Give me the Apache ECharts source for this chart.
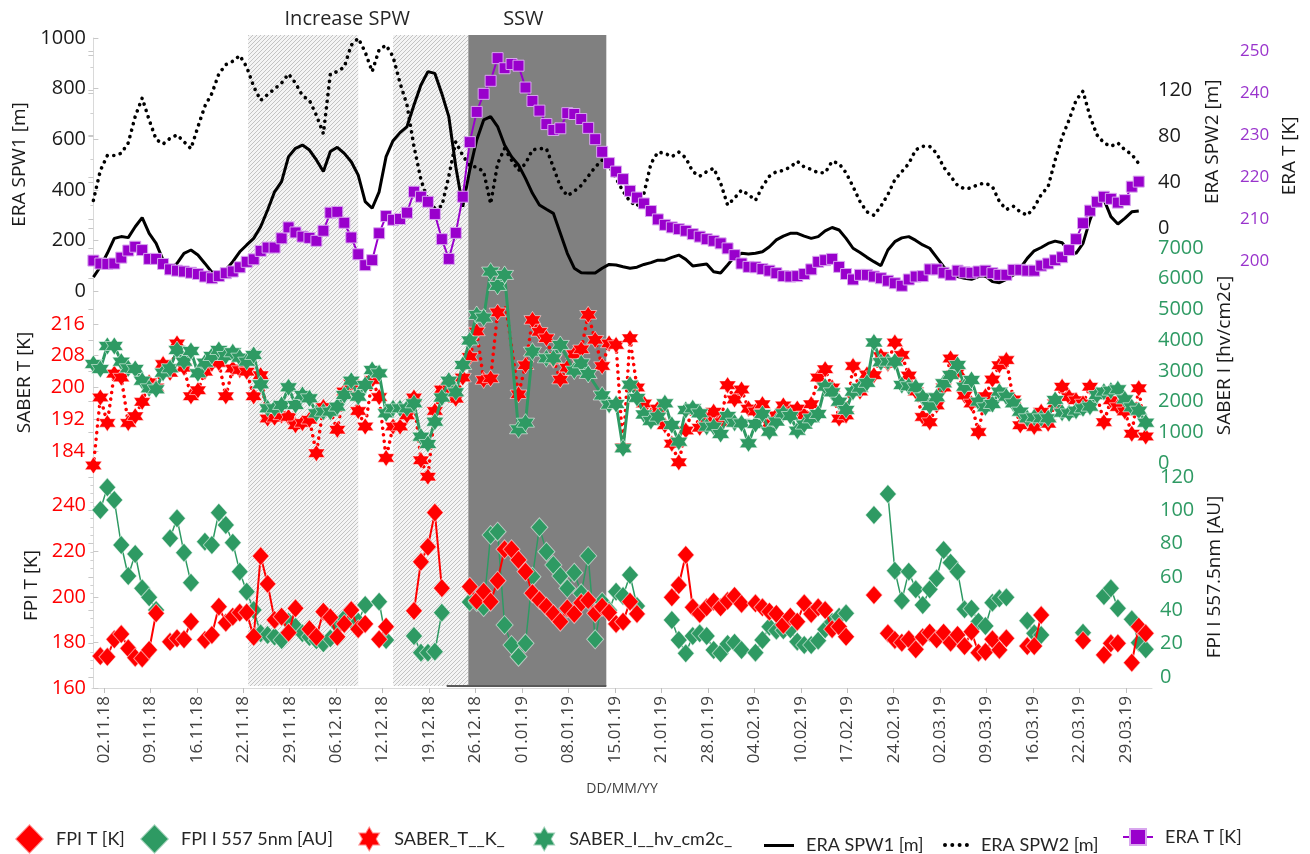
<!DOCTYPE html>
<html>
<head>
<meta charset="utf-8">
<script src="https://cdn.jsdelivr.net/npm/echarts@6/dist/echarts.min.js"></script>
<style>
  html, body { margin: 0; padding: 0; background: #ffffff; }
  #chart { width: 1310px; height: 854px; }
</style>
</head>
<body>
<div id="chart"></div>
<script>
// Day numbers on the x axis count from 01.11.18 (day 0).
const tickLabels = ['02.11.18','09.11.18','16.11.18','22.11.18','29.11.18','06.12.18','12.12.18',
  '19.12.18','26.12.18','01.01.19','08.01.19','15.01.19','21.01.19','28.01.19','04.02.19','10.02.19',
  '17.02.19','24.02.19','02.03.19','09.03.19','16.03.19','22.03.19','29.03.19'];

// Shaded periods (day numbers) and their titles
const hatchPeriods = [[22.2, 38.0], [43.0, 53.8]];
const sswPeriod = [53.8, 73.6];
const periodTitles = [
  { text: 'Increase SPW', from: 22.2, to: 53.8 },
  { text: 'SSW', from: 53.8, to: 73.6 }
];

// ERA SPW1 [m], daily from 01.11.18
const eraSpw1 = [55,96,149,208,215,211,254,290,228,188,
  122,86,109,149,162,142,109,74,74,83,
  116,155,182,208,254,320,392,432,531,564,
  577,557,518,472,551,568,544,511,458,353,
  327,392,531,594,626,650,735,814,867,860,
  780,689,491,333,478,597,676,689,650,577,
  531,498,445,386,340,323,307,228,149,90,
  72,71,71,90,105,103,96,90,94,105,
  112,122,122,133,142,125,99,103,107,76,
  71,103,136,149,146,149,155,175,202,217,
  228,228,217,208,215,238,251,241,208,169,
  152,133,116,100,162,195,210,215,200,182,
  169,133,96,67,57,50,46,57,59,37,
  33,46,63,90,129,159,172,188,197,191,
  155,149,188,281,353,362,294,265,287,313,
  316];

// ERA SPW2 [m], daily from 01.11.18
const eraSpw2 = [24,50,63,63,65,74,97,113,94,77,
  73,78,81,75,69,88,106,117,134,142,
  145,150,140,123,111,116,121,126,134,126,
  115,111,98,82,134,136,140,159,165,153,
  136,155,159,149,126,107,71,42,24,17,
  19,45,75,63,54,53,49,21,56,69,
  59,50,56,68,69,69,53,36,28,32,
  37,45,53,59,54,43,32,23,19,30,
  56,66,65,62,66,61,49,45,49,52,
  39,20,26,33,29,24,36,45,49,50,
  53,58,53,51,48,48,58,56,48,36,
  23,14,11,19,29,42,49,56,68,71,
  71,65,53,45,37,34,35,38,39,36,
  23,16,19,14,11,18,29,36,59,79,
  94,111,119,97,81,74,71,74,68,64,
  56];

// ERA T [K], daily from 01.11.18
const eraT = [200.1,199.4,199.3,199.4,200.8,202.5,203.4,202.6,200.5,200.5,
  199.3,198.0,197.7,197.5,197.2,196.9,196.3,195.9,196.4,197.1,
  197.5,198.5,199.8,200.4,202.4,203.2,203.2,205.4,208.0,206.8,
  205.8,205.5,204.8,207.2,211.5,211.7,209.1,205.6,201.6,199.0,
  200.2,206.6,210.7,209.8,210.0,211.5,216.5,215.3,214.1,211.2,
  205.2,200.5,206.7,215.3,228.3,235.5,239.8,242.9,248.3,245.9,
  246.9,246.5,241.3,238.1,235.8,232.6,231.2,231.6,235.2,235.0,
  233.8,231.7,229.0,226.0,223.3,221.3,219.5,216.7,215.1,213.7,
  211.9,209.9,208.6,208.0,207.6,207.2,206.4,205.8,205.2,204.8,
  204.2,203.0,201.4,199.4,198.6,198.5,198.1,197.7,197.1,196.4,
  196.3,196.4,196.9,198.0,199.8,200.2,200.5,198.6,196.9,195.6,
  196.7,196.7,196.3,195.9,195.3,194.7,194.1,195.6,196.3,196.4,
  198.0,198.0,197.2,196.7,197.7,197.3,197.2,197.5,197.7,197.1,
  196.7,196.7,197.9,197.9,197.7,197.7,198.9,199.4,200.2,200.9,
  202.6,205.2,209.0,212.0,214.1,215.3,214.8,213.9,214.5,217.7,
  218.9];

// SABER T [K], daily from 01.11.18 (null = no pass)
const saberT = [180.4,197.5,191.1,203.5,202.5,191.1,192.8,196.4,201.3,200,
  205.9,203.7,211.1,205,197.8,199.3,204.0,206,206.2,197.8,
  204.8,204.4,204.0,197.8,203.1,192.2,192.4,193.0,192.6,190.5,
  191.1,191.9,183.5,195.1,194,189.4,199,201,194.1,190.2,
  201.9,197.6,182.3,190.2,190.2,193,197.5,181.7,177.6,194.1,
  199.5,200,197.2,202.5,207.7,214.1,201.9,202.3,218.9,222.5,
  null,198.3,205.6,217.0,214,212.4,207,202.0,205,208.4,
  209.6,218.3,212,205.4,211.1,210.7,185,212.4,200.0,196,
  193,194.7,190.5,185.9,181.2,189.2,194.7,189.9,192,193.9,
  191.3,200.6,197,199.5,194.7,194,195.8,190.9,193,195.5,
  194,194.7,193,195.8,202.5,204.6,200,192.2,193.0,205.4,
  199,203.3,203.1,207.9,206,211.3,208.2,203,199,192.6,
  191.3,195.5,200,207.3,204,198,196,188.8,197.8,202.0,
  205.6,206.9,197,190.5,192,190.1,193.9,190.9,196,200.2,
  197.6,196.8,196,200.2,198,191.3,196.8,195.1,194,188.4,
  199.8,187.7];

// SABER I [hv/cm2c], daily from 01.11.18
const saberI = [3224,3061,3810,3810,3300,3083,3061,2680,2432,2399,
  2941,3083,3680,3300,3647,2920,3267,3484,3680,3484,
  3604,3430,3300,3517,2562,1780,1780,1889,2464,1889,
  2214,2106,1617,1672,1672,1835,2214,2680,2160,2540,
  3028,2920,1617,1780,1780,1780,1943,858,619,1346,
  2130,2680,2300,3191,3990,4820,4733,6231,5765,6124,
  null,1097,1313,3626,null,3409,3409,3844,null,3008,
  3246,2899,null,2200,1900,1920,479,2550,2120,1580,
  1370,1509,1943,1237,694,1726,1780,1617,1183,1183,
  944,1530,1313,1292,640,1270,1596,1020,1350,1617,
  1530,1052,1250,1455,1596,2486,2300,1997,1726,2323,
  2450,2610,3924,3283,3300,3300,2540,2500,2464,2138,
  1856,2138,2595,2866,3191,2486,2703,1997,1813,1921,
  2323,2160,1943,1672,1455,1487,1455,1455,2051,1639,
  1617,1704,1780,1835,2214,2323,2356,2399,2073,1813,
  1704,1313];

// FPI T [K], nightly from 01.11.18 (null = no observation)
const fpiT = [null,174.0,173.7,181.4,183.7,177.4,173.3,173.0,176.7,192.8,
  null,180.3,181.8,181.4,189.1,null,181.1,183.3,195.7,188.7,
  191.3,193.1,193.1,182.5,217.9,205.7,189.9,191.3,184.3,195.0,
  null,185.8,182.5,193.5,191.0,182.5,188.1,194.2,185.8,188.1,
  null,181.4,186.9,null,null,null,193.9,215.4,222.0,237.0,
  203.8,null,null,null,204.5,198.4,202.3,197.9,207.1,220.9,
  220.9,216.2,211.1,201.6,198.6,195.7,192.5,189.1,195.0,192.5,
  197.4,198.6,192.8,195.7,193.1,188.1,189.1,197.9,192.5,null,
  null,null,null,199.8,205.2,218.4,195.4,192.5,195.4,197.9,
  195.4,198.3,200.4,196.9,null,197.2,195.4,193.5,192.5,187.7,
  191.3,189.1,197.2,192.5,195.4,194.2,185.8,186.9,182.5,null,
  null,null,200.8,null,184.0,181.1,179.9,181.4,177.0,182.3,
  184.3,181.4,184.3,179.9,183.3,178.4,184.7,175.5,175.9,181.4,
  176.7,181.8,null,null,178.4,178.4,192.0,null,null,null,
  null,null,180.8,null,null,174.5,179.6,179.6,null,171.1,
  186.9,184.0];

// FPI I 557.7 nm [AU], nightly from 01.11.18
const fpiI = [null,100.2,113.8,106.2,79.2,60.6,73.8,53.2,47.8,40.2,
  null,83.2,95.2,74.6,56.6,null,81.2,79.2,98.6,91.2,
  80.6,63.2,51.2,40.2,26.2,25.2,24.2,22.2,33.2,30.2,
  26.2,24,22,20.2,23.2,31.2,35.2,34,33.2,43.2,
  null,45.2,22.2,null,null,null,24.6,14.6,14.6,15.2,
  38.6,null,null,null,45,45,42,85.2,87.2,31.2,
  19.2,12.2,20.2,60.2,89.8,75.2,67.2,60.6,53.2,62.6,
  50.2,72.6,22.6,45.2,40,51.2,48.6,61.2,42.6,null,
  null,null,null,34.2,22.2,14.2,24.6,26.2,24.6,16.2,
  14.2,19.8,20.6,16.2,null,14.6,22.2,30.2,27.8,28,
  28.6,21.2,19.2,19.2,21.8,28.6,33,36.2,38.2,null,
  null,null,97.2,null,109.8,63.8,45.8,63.2,52.6,43.2,
  52.6,59.2,76.2,68.6,63.2,40.6,41,33.2,30.6,44.6,
  47.2,47.8,null,null,33.8,26.2,25.2,null,null,null,
  null,null,26.6,null,null,48.6,53.2,41.2,null,34.6,
  20.6,16.6];

// ---------- helpers ----------
const FONT = "'Open Sans', 'DejaVu Sans', sans-serif";
const LEGEND_FONT = "'Lato', 'Open Sans', sans-serif";
const RED = '#ff0000';
const GREEN = '#2e9a63';
const PURPLE = '#9900cc';
const AXIS_GRAY = '#d9d9d9';

const X_MIN = -0.2, X_MAX = 151.9;
const firstTick = 1.5, tickStep = 20 / 3;
const tickPos = tickLabels.map((_, k) => firstTick + k * tickStep);

const toPairs = arr => arr.map((v, i) => [i, v == null ? null : v]);
const plainNumber = v => String(v);

// six-pointed star marker
function hexagram() {
  const pts = [];
  for (let k = 0; k < 12; k++) {
    const a = -Math.PI / 2 + k * Math.PI / 6;
    const r = k % 2 === 0 ? 50 : 28.9;
    pts.push((50 + r * Math.cos(a)).toFixed(2) + ',' + (50 + r * Math.sin(a)).toFixed(2));
  }
  return 'path://M' + pts.join('L') + 'Z';
}
const STAR = hexagram();

// row of round dots for the dotted-line legend key
function dotRow(n, gap, r) {
  let d = '';
  for (let k = 0; k < n; k++) {
    const cx = r + k * gap;
    d += `M${cx - r},${r}a${r},${r} 0 1,0 ${2 * r},0a${r},${r} 0 1,0 ${-2 * r},0`;
  }
  return 'path://' + d;
}

// diagonal hatch fill
function hatchPattern() {
  const c = document.createElement('canvas');
  c.width = 4; c.height = 4;
  const g = c.getContext('2d');
  g.fillStyle = '#f4f4f4';
  g.fillRect(0, 0, 4, 4);
  g.strokeStyle = '#c3c3c3';
  g.lineWidth = 1;
  g.beginPath();
  g.moveTo(0, 4); g.lineTo(4, 0);
  g.moveTo(-1, 1); g.lineTo(1, -1);
  g.moveTo(3, 5); g.lineTo(5, 3);
  g.stroke();
  return c;
}

// panel grids: [top, height]
const LEFT = 92, RIGHT = 158;
const gridBoxes = [
  [35, 651],    // 0 background periods
  [38, 253],    // 1 ERA SPW1
  [55.5, 172.5],// 2 ERA SPW2
  [51, 210],    // 3 ERA T
  [308, 175],   // 4 SABER T
  [248, 215],   // 5 SABER I
  [483, 205],   // 6 FPI T
  [477, 200]    // 7 FPI I
];
const grid = gridBoxes.map(([t, h]) => ({ left: LEFT, right: RIGHT, top: t, height: h }));

const xAxis = gridBoxes.map((_, i) => ({
  gridIndex: i, type: 'value', min: X_MIN, max: X_MAX, show: false
}));
xAxis[6] = {
  gridIndex: 6, type: 'value', min: X_MIN, max: X_MAX, position: 'bottom',
  axisLine: { show: true, lineStyle: { color: AXIS_GRAY, width: 1 } },
  axisTick: { show: true, customValues: tickPos, length: 5, lineStyle: { color: '#bfbfbf' } },
  axisLabel: {
    customValues: tickPos, rotate: 90, margin: 8,
    fontFamily: FONT, fontSize: 17, color: '#404040',
    formatter: v => tickLabels[Math.round((v - firstTick) / tickStep)] || ''
  },
  splitLine: { show: false },
  name: 'DD/MM/YY', nameLocation: 'middle', nameGap: 94,
  nameTextStyle: { fontFamily: FONT, fontSize: 14, color: '#404040' }
};

function yAx(opts) {
  return Object.assign({
    type: 'value',
    axisLine: { show: true, lineStyle: { color: AXIS_GRAY, width: 1 } },
    axisTick: { show: true, inside: true, length: 5, lineStyle: { color: '#c8c8c8' } },
    splitLine: { show: false },
    nameLocation: 'middle', nameRotate: 90,
  }, opts);
}
const nameStyle = { fontFamily: FONT, fontSize: 19, color: '#1a1a1a' };

const yAxis = [
  { gridIndex: 0, type: 'value', min: 0, max: 1, show: false },
  yAx({ gridIndex: 1, position: 'left', min: 0, max: 1000, interval: 200,
    axisLabel: { fontFamily: FONT, fontSize: 20, color: '#1a1a1a', margin: 6, formatter: plainNumber },
    name: 'ERA SPW1 [m]', nameGap: 57, nameTextStyle: nameStyle }),
  yAx({ gridIndex: 2, position: 'right', min: 0, max: 150, interval: 40,
    axisLabel: { fontFamily: FONT, fontSize: 20, color: '#1a1a1a', margin: 6, showMaxLabel: false, formatter: plainNumber },
    minorTick: { show: true, splitNumber: 2, length: 3, lineStyle: { color: '#d0d0d0' } },
    name: 'ERA SPW2 [m]', nameGap: 49, nameTextStyle: nameStyle }),
  yAx({ gridIndex: 3, position: 'right', offset: 85, min: 200, max: 250, interval: 10,
    axisLabel: { fontFamily: FONT, fontSize: 17, color: '#9933cc', margin: 3, formatter: plainNumber },
    name: 'ERA T [K]', nameGap: 39, nameTextStyle: nameStyle }),
  yAx({ gridIndex: 4, position: 'left', min: 176, max: 220, interval: 8,
    axisLabel: { fontFamily: FONT, fontSize: 20, color: RED, margin: 7, showMinLabel: false, showMaxLabel: false, formatter: plainNumber },
    name: 'SABER T [K]', nameGap: 58,
    nameTextStyle: Object.assign({ padding: [0, 0, 0, 26] }, nameStyle) }),
  yAx({ gridIndex: 5, position: 'right', min: 0, max: 7000, interval: 1000,
    axisLabel: { fontFamily: FONT, fontSize: 20, color: GREEN, margin: 6, formatter: plainNumber },
    name: 'SABER I [hv/cm2c]', nameGap: 60, nameTextStyle: nameStyle }),
  yAx({ gridIndex: 6, position: 'left', min: 160, max: 250, interval: 20,
    axisLabel: { fontFamily: FONT, fontSize: 20, color: RED, margin: 6, showMaxLabel: false, formatter: plainNumber },
    name: 'FPI T [K]', nameGap: 42, nameTextStyle: nameStyle }),
  yAx({ gridIndex: 7, position: 'right', min: 0, max: 120, interval: 20,
    axisLabel: { fontFamily: FONT, fontSize: 20, color: GREEN, margin: 8, formatter: plainNumber },
    minorTick: { show: true, splitNumber: 4, length: 3, lineStyle: { color: '#d0d0d0' } },
    name: 'FPI I 557.5nm [AU]', nameGap: 53, nameTextStyle: nameStyle })
];

// background bands
const hatch = { image: hatchPattern(), repeat: 'repeat' };
const bandData = hatchPeriods.map(([a, b]) => [
  { xAxis: a, itemStyle: { color: hatch, opacity: 1 } }, { xAxis: b }
]);
bandData.push([{ xAxis: sswPeriod[0], itemStyle: { color: '#808080', opacity: 1 } }, { xAxis: sswPeriod[1] }]);
const titleOffsets = [-11, -14];
periodTitles.forEach((p, k) => {
  bandData.push([{
    xAxis: p.from,
    itemStyle: { color: 'rgba(0,0,0,0)' },
    label: { show: true, position: 'top', distance: 6, offset: [titleOffsets[k], 0],
      formatter: p.text, fontFamily: FONT, fontSize: 20, color: '#262626' }
  }, { xAxis: p.to }]);
});

const markerBorder = { borderColor: 'rgba(255,255,255,0.55)', borderWidth: 1 };

const series = [
  {
    type: 'line', name: 'periods', xAxisIndex: 0, yAxisIndex: 0, data: [], z: 0,
    silent: true, symbol: 'none',
    markArea: { silent: true, data: bandData },
    markLine: {
      silent: true, symbol: 'none', label: { show: false },
      lineStyle: { color: '#595959', width: 2, type: 'solid' },
      data: [[{ coord: [50.7, 0] }, { coord: [sswPeriod[1], 0] }]]
    }
  },
  {
    type: 'line', name: 'FPI I 557 5nm [AU]', xAxisIndex: 7, yAxisIndex: 7,
    data: toPairs(fpiI), connectNulls: false, showAllSymbol: true,
    symbol: 'diamond', symbolSize: [17, 19],
    lineStyle: { color: GREEN, width: 1.5 },
    itemStyle: Object.assign({ color: GREEN }, markerBorder), z: 3
  },
  {
    type: 'line', name: 'FPI T [K]', xAxisIndex: 6, yAxisIndex: 6,
    data: toPairs(fpiT), connectNulls: false, showAllSymbol: true,
    symbol: 'diamond', symbolSize: [17, 19],
    lineStyle: { color: RED, width: 2 },
    itemStyle: Object.assign({ color: RED }, markerBorder), z: 4
  },
  {
    type: 'line', name: 'SABER_T__K_', xAxisIndex: 4, yAxisIndex: 4,
    data: toPairs(saberT), connectNulls: true, showAllSymbol: true,
    symbol: STAR, symbolSize: 17,
    lineStyle: { color: RED, width: 3.5, type: [0.1, 6.5], cap: 'round' },
    itemStyle: Object.assign({ color: RED }, markerBorder), z: 3
  },
  {
    type: 'line', name: 'SABER_I__hv_cm2c_', xAxisIndex: 5, yAxisIndex: 5,
    data: toPairs(saberI), connectNulls: true, showAllSymbol: true,
    symbol: STAR, symbolSize: 18,
    lineStyle: { color: GREEN, width: 3 },
    itemStyle: Object.assign({ color: GREEN }, markerBorder), z: 4
  },
  {
    type: 'line', name: 'ERA SPW1 [m]', xAxisIndex: 1, yAxisIndex: 1,
    data: toPairs(eraSpw1), symbol: 'none',
    lineStyle: { color: '#000000', width: 3 },
    itemStyle: { color: '#000000' }, z: 3
  },
  {
    type: 'line', name: 'ERA SPW2 [m]', xAxisIndex: 2, yAxisIndex: 2,
    data: toPairs(eraSpw2), symbol: 'none', clip: false,
    lineStyle: { color: '#000000', width: 3.6, type: [0.1, 6.6], cap: 'round' },
    itemStyle: { color: '#000000' }, z: 3
  },
  {
    // ERA T dips a few kelvin below the 200 K axis floor, so it is not clipped
    type: 'line', name: 'ERA T [K]', xAxisIndex: 3, yAxisIndex: 3,
    data: toPairs(eraT), symbol: 'rect', symbolSize: 11, showAllSymbol: true, clip: false,
    lineStyle: { color: PURPLE, width: 2 },
    itemStyle: { color: PURPLE, borderColor: '#d8a6ee', borderWidth: 1 }, z: 5
  }
];

// one legend block per entry so each sits at its own place in the bottom row
const legendTextStyle = { fontFamily: LEGEND_FONT, fontSize: 18, color: '#262626', padding: [0, 0, 0, 7] };
function legendItem(name, left, w, h, icon) {
  const item = icon ? { name, icon } : { name };
  return {
    data: [item], left, top: 838 - h / 2, padding: 0,
    itemWidth: w, itemHeight: h, selectedMode: false,
    textStyle: legendTextStyle
  };
}
const legend = [
  legendItem('FPI T [K]', 14, 29, 30, 'diamond'),
  legendItem('FPI I 557 5nm [AU]', 139, 29, 30, 'diamond'),
  legendItem('SABER_T__K_', 357, 26, 26, STAR),
  legendItem('SABER_I__hv_cm2c_', 532, 26, 26, STAR),
  legendItem('ERA SPW1 [m]', 764, 30, 3, 'rect'),
  legendItem('ERA SPW2 [m]', 943, 26, 4, dotRow(4, 7.3, 2)),
  legendItem('ERA T [K]', 1122, 30, 20)
];

const chart = echarts.init(document.getElementById('chart'), null, { renderer: 'canvas' });
chart.setOption({
  animation: false,
  backgroundColor: '#ffffff',
  grid, xAxis, yAxis, legend, series
});
</script>
</body>
</html>
